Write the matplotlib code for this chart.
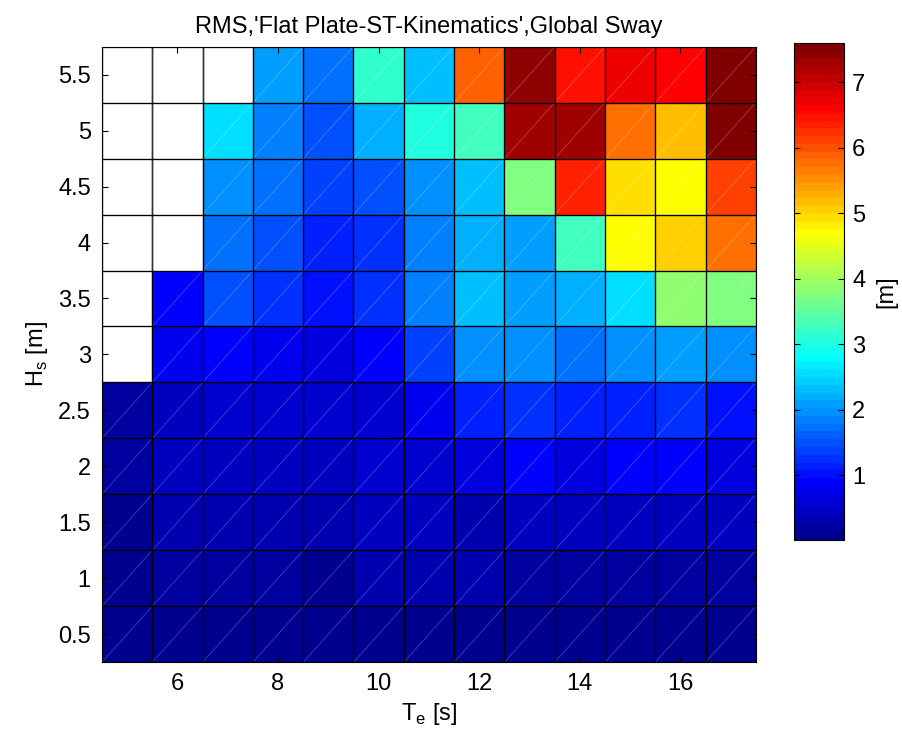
import numpy as np
import matplotlib.pyplot as plt
from matplotlib.colors import ListedColormap
from matplotlib.collections import LineCollection

plt.rcParams['font.family'] = ['Liberation Sans', 'DejaVu Sans']

# ----------- data -----------
te = [5, 6, 7, 8, 9, 10, 11, 12, 13, 14, 15, 16, 17]
hs = [0.5, 1.0, 1.5, 2.0, 2.5, 3.0, 3.5, 4.0, 4.5, 5.0, 5.5]
nan = np.nan

# RMS global sway [m], one row per Hs (bottom to top), one column per Te
sway_05 = [0.10, 0.08, 0.08, 0.08, 0.08, 0.08, 0.05, 0.05, 0.03, 0.03, 0.03, 0.03, 0.01]
sway_10 = [0.10, 0.15, 0.15, 0.15, 0.10, 0.25, 0.25, 0.25, 0.15, 0.15, 0.20, 0.15, 0.20]
sway_15 = [0.08, 0.33, 0.33, 0.30, 0.27, 0.38, 0.41, 0.35, 0.45, 0.41, 0.45, 0.38, 0.41]
sway_20 = [0.17, 0.41, 0.45, 0.41, 0.38, 0.52, 0.55, 0.65, 0.88, 0.71, 0.88, 0.88, 0.67]
sway_25 = [0.20, 0.48, 0.55, 0.55, 0.52, 0.58, 0.75, 1.10, 1.27, 1.10, 1.10, 1.20, 1.05]
sway_30 = [nan, 0.78, 0.95, 0.83, 0.67, 0.85, 1.35, 1.94, 1.94, 1.72, 1.94, 2.08, 1.94]
sway_35 = [nan, 0.95, 1.47, 1.22, 1.00, 1.20, 1.88, 2.32, 2.08, 2.20, 2.57, 3.92, 3.80]
sway_40 = [nan, nan, 1.72, 1.45, 1.15, 1.31, 1.90, 2.20, 2.08, 3.31, 4.70, 5.05, 5.75]
sway_45 = [nan, nan, 2.00, 1.72, 1.34, 1.45, 1.97, 2.32, 3.80, 6.37, 4.95, 4.70, 6.09]
sway_50 = [nan, nan, 2.57, 1.83, 1.47, 2.20, 3.03, 3.31, 7.35, 7.35, 5.75, 5.17, 7.60]
sway_55 = [nan, nan, nan, 2.05, 1.72, 3.18, 2.32, 5.85, 7.45, 6.45, 6.75, 6.60, 7.60]
# -------- end of data -----


def matlab_jet(m=64):
    # same construction as MATLAB's jet(m)
    n = int(np.ceil(m / 4))
    u = np.concatenate([np.arange(1, n + 1) / n, np.ones(n - 1), np.arange(n, 0, -1) / n])
    g = int(np.ceil(n / 2)) - (m % 4 == 1) + np.arange(1, len(u) + 1)
    r = g + n
    b = g - n
    J = np.zeros((m, 3))
    J[r[r <= m] - 1, 0] = u[r <= m]
    J[g[g <= m] - 1, 1] = u[g <= m]
    J[b[b >= 1] - 1, 2] = u[b >= 1]
    return ListedColormap(J)


z = np.array([sway_05, sway_10, sway_15, sway_20, sway_25, sway_30,
              sway_35, sway_40, sway_45, sway_50, sway_55])
z = np.ma.masked_invalid(z)

te = np.array(te, dtype=float)
hs = np.array(hs, dtype=float)
dx = te[1] - te[0]
dy = hs[1] - hs[0]
xe = np.append(te - dx / 2, te[-1] + dx / 2)
ye = np.append(hs - dy / 2, hs[-1] + dy / 2)

fig = plt.figure(figsize=(9.02, 7.4), dpi=100)
ax = fig.add_axes([0.113, 0.105, 0.725, 0.832])
cax = fig.add_axes([0.880, 0.270, 0.0555, 0.672])

mesh = ax.pcolormesh(xe, ye, z, cmap=matlab_jet(64), vmin=z.min(), vmax=z.max(),
                     edgecolors='none')

# outline every cell, faint diagonal only where there is a value
edges, gaps, diags = [], [], []
for i in range(len(hs)):
    for j in range(len(te)):
        x0, x1, y0, y1 = xe[j], xe[j + 1], ye[i], ye[i + 1]
        edges += [[(x0, y0), (x1, y0)], [(x1, y1), (x0, y1)]]
        side = [[(x0, y0), (x0, y1)], [(x1, y0), (x1, y1)]]
        if np.ma.is_masked(z[i, j]):
            gaps += side
        else:
            edges += side
            diags.append([(x0, y0), (x1, y1)])
ax.add_collection(LineCollection(diags, colors='white', linewidths=0.5, alpha=0.3))
ax.add_collection(LineCollection(gaps, colors='#333333', linewidths=1.0))
ax.add_collection(LineCollection(edges, colors='black', linewidths=0.85))

ax.set_xlim(xe[0], xe[-1])
ax.set_ylim(ye[0], ye[-1])
ax.set_xticks([6, 8, 10, 12, 14, 16])
ax.set_yticks(hs)
ax.set_yticklabels(['0.5', '1', '1.5', '2', '2.5', '3', '3.5', '4', '4.5', '5', '5.5'])
ax.tick_params(direction='in', top=True, right=True, length=4, width=0.8,
               labelsize=17, pad=8)
ax.set_xlabel('T$_\\mathregular{e}$ [s]', fontsize=17, labelpad=4)
ax.set_ylabel('H$_\\mathregular{s}$ [m]', fontsize=17, labelpad=6)
ax.set_title("RMS,'Flat Plate-ST-Kinematics',Global Sway", fontsize=17, pad=10)
for s in ax.spines.values():
    s.set_linewidth(0.8)

cb = fig.colorbar(mesh, cax=cax)
cb.set_ticks([1, 2, 3, 4, 5, 6, 7])
cb.ax.tick_params(direction='in', left=True, right=True, length=4, width=0.8,
                  labelsize=17, pad=6)
cb.set_label('[m]', fontsize=17, labelpad=7)
cb.outline.set_linewidth(0.8)

plt.savefig('out.png', dpi=100)
